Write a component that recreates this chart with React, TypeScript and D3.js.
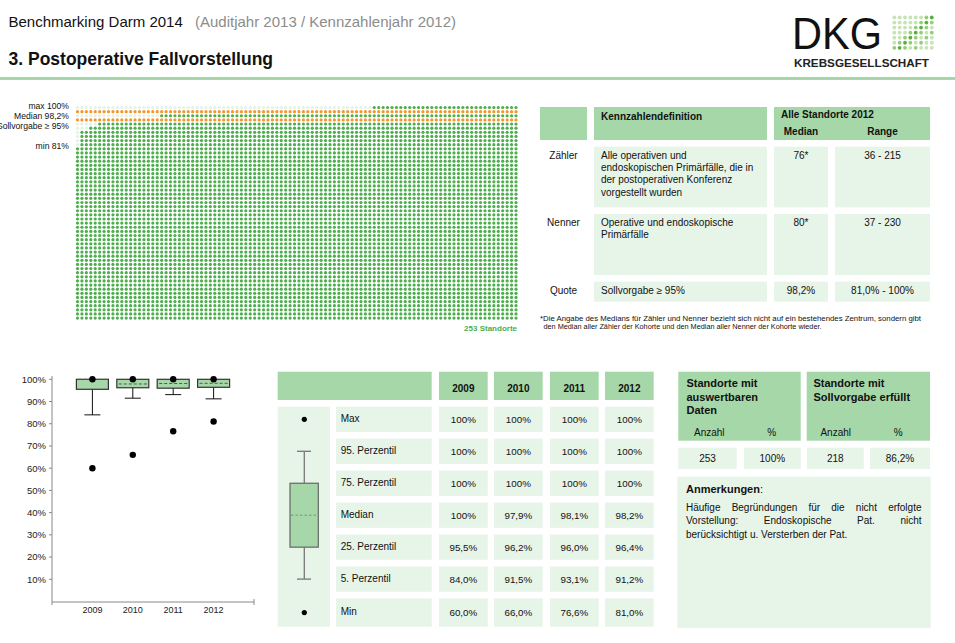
import React from 'react';
import * as d3 from 'd3';

const FONT = '"Liberation Sans", Arial, Helvetica, sans-serif';
const HEAD_GREEN = '#a6d7a8';
const CELL_GREEN = '#e7f4e8';
const DOT_GREEN = '#4cae4c';
const DOT_LIGHT = '#e4f2e4';
const ORANGE = '#f5962e';

// 2012: quota per Standort, as [value %, number of Standorte]
const quoteGroups: [number, number][] = [
    [81.0, 1], [88.5, 2], [89.0, 3], [90.5, 3], [91.2, 4], [92.5, 5], [93.5, 5], [94.5, 12],
    [95.5, 14], [96.4, 15], [97.0, 20], [97.8, 25], [98.2, 20], [98.8, 20], [99.3, 21], [100, 83],
];
const quoteMax = 100;
const quoteMedian = 98.2;
const quoteSoll = 95;
const quoteMin = 81;
const standorteLabel = '253 Standorte';

// Kennzahlen table
const kennNames = ['Zähler', 'Nenner', 'Quote'];
const kennDefs = [
    ['Alle operativen und', 'endoskopischen Primärfälle, die in', 'der postoperativen Konferenz', 'vorgestellt wurden'],
    ['Operative und endoskopische', 'Primärfälle'],
    ['Sollvorgabe ≥ 95%'],
];
const kennMedian = ['76*', '80*', '98,2%'];
const kennRange = ['36 - 215', '37 - 230', '81,0% - 100%'];

// boxplot per year
const years = [2009, 2010, 2011, 2012];
const maxVals = [100, 100, 100, 100];
const p95Vals = [100, 100, 100, 100];
const p75Vals = [100, 100, 100, 100];
const medianVals = [100, 97.9, 98.1, 98.2];
const p25Vals = [95.5, 96.2, 96.0, 96.4];
const p5Vals = [84.0, 91.5, 93.1, 91.2];
const minVals = [60.0, 66.0, 76.6, 81.0];
const statLabels = ['Max', '95. Perzentil', '75. Perzentil', 'Median', '25. Perzentil', '5. Perzentil', 'Min'];

// Standorte summary
const standorteAnzahl = 253;
const standortePct = 100;
const erfuelltAnzahl = 218;
const erfuelltPct = 86.2;

const anmerkungLines = [
    'Häufige Begründungen für die nicht erfolgte',
    'Vorstellung: Endoskopische Pat. nicht',
    'berücksichtigt u. Versterben der Pat.',
];

// logo dots: 0 light, 1 mid, 2 dark
const logoDots = [
    '00000012',
    '00000121',
    '00001210',
    '00012101',
    '00121010',
    '01210100',
    '12101000',
];

const fmtPct = (v: number) => (v === 100 ? '100%' : v.toFixed(1).replace('.', ',') + '%');

let measureCtx: CanvasRenderingContext2D | null = null;
const textWidth = (s: string, font: string) => {
    if (!measureCtx) measureCtx = document.createElement('canvas').getContext('2d');
    if (!measureCtx) return s.length * 5;
    measureCtx.font = font;
    return measureCtx.measureText(s).width;
};

const justifyWords = (line: string, x0: number, x1: number, font: string) => {
    const words = line.split(' ');
    const widths = words.map(w => textWidth(w, font));
    const gap = (x1 - x0 - d3.sum(widths)) / Math.max(1, words.length - 1);
    let x = x0;
    return words.map((w, i) => {
        const pos = x;
        x += widths[i] + gap;
        return { w, x: pos };
    });
};

const T = (props: any) => <text fontFamily={FONT} fill="#111" {...props} />;

const DotChart = () => {
    const values = quoteGroups.flatMap(([v, n]) => Array(n).fill(v) as number[]);
    const xBar = d3.scaleBand<number>().domain(d3.range(values.length)).range([76, 518]);
    const yQuote = d3.scaleLinear().domain([0, 100]).range([318.1, 107.5]);
    const nCols = 100;
    const nRows = 52;
    const colX = d3.scaleLinear().domain([0, nCols - 1]).range([77.5, 516]);
    const rowY = d3.scaleLinear().domain([0, nRows - 1]).range([107.5, 318.1]);
    const medianRow = Math.round(rowY.invert(yQuote(quoteMedian)));
    const sollRow = Math.ceil(rowY.invert(yQuote(quoteSoll)));

    const dots: JSX.Element[] = [];
    for (let r = 0; r < nRows; r++) {
        const y = rowY(r);
        const level = yQuote.invert(y);
        for (let c = 0; c < nCols; c++) {
            const x = colX(c);
            const idx = Math.max(0, Math.min(values.length - 1, Math.floor((x - 76) / xBar.step())));
            let fill = values[idx] >= level - 0.01 ? DOT_GREEN : DOT_LIGHT;
            if (r === medianRow || r === sollRow) fill = ORANGE;
            dots.push(<circle key={r + '-' + c} cx={x} cy={y} r={1.6} fill={fill} />);
        }
    }

    const labels = [
        { text: `max ${quoteMax}%`, y: 106 },
        { text: `Median ${fmtPct(quoteMedian)}`, y: 116 },
        { text: `Sollvorgabe ≥ ${quoteSoll}%`, y: 126 },
        { text: `min ${quoteMin}%`, y: yQuote(quoteMin) - 2 },
    ];

    return (
        <g>
            {dots}
            {labels.map(l => (
                <T key={l.text} x={69} y={l.y} dy="0.35em" fontSize={8.6} textAnchor="end">{l.text}</T>
            ))}
            <T x={517} y={328} dy="0.35em" fontSize={8} fontWeight="bold" textAnchor="end" fill={DOT_GREEN}>
                {standorteLabel}
            </T>
        </g>
    );
};

const KennTable = () => {
    const rowTop = [146.7, 214, 281.7];
    const rowH = [60.6, 61, 20];
    const c1 = [540, 587];
    const c2 = [594, 767];
    const c3 = [774, 828];
    const c4 = [835, 930];
    const mid = (c: number[]) => (c[0] + c[1]) / 2;
    return (
        <g>
            <rect x={c1[0]} y={107} width={c1[1] - c1[0]} height={33} fill={HEAD_GREEN} />
            <rect x={c2[0]} y={107} width={c2[1] - c2[0]} height={33} fill={HEAD_GREEN} />
            <rect x={c3[0]} y={107} width={c4[1] - c3[0]} height={33} fill={HEAD_GREEN} />
            <T x={601} y={116.7} dy="0.35em" fontSize={10} fontWeight="bold">Kennzahlendefinition</T>
            <T x={781} y={114} dy="0.35em" fontSize={10} fontWeight="bold">Alle Standorte 2012</T>
            <T x={mid(c3)} y={131.7} dy="0.35em" fontSize={10} fontWeight="bold" textAnchor="middle">Median</T>
            <T x={mid(c4)} y={131.7} dy="0.35em" fontSize={10} fontWeight="bold" textAnchor="middle">Range</T>
            {kennNames.map((name, i) => (
                <g key={name}>
                    <rect x={c2[0]} y={rowTop[i]} width={c2[1] - c2[0]} height={rowH[i]} fill={CELL_GREEN} />
                    <rect x={c3[0]} y={rowTop[i]} width={c3[1] - c3[0]} height={rowH[i]} fill={CELL_GREEN} />
                    <rect x={c4[0]} y={rowTop[i]} width={c4[1] - c4[0]} height={rowH[i]} fill={CELL_GREEN} />
                    <T x={mid(c1)} y={rowTop[i] + 8.5} dy="0.35em" fontSize={10} textAnchor="middle">{name}</T>
                    {kennDefs[i].map((line, j) => (
                        <T key={j} x={601} y={rowTop[i] + 8.5 + j * 12.3} dy="0.35em" fontSize={10}>{line}</T>
                    ))}
                    <T x={mid(c3)} y={rowTop[i] + 8.5} dy="0.35em" fontSize={10} textAnchor="middle">{kennMedian[i]}</T>
                    <T x={mid(c4)} y={rowTop[i] + 8.5} dy="0.35em" fontSize={10} textAnchor="middle">{kennRange[i]}</T>
                </g>
            ))}
            <T x={540} y={318.5} dy="0.35em" fontSize={7} textLength={381} lengthAdjust="spacingAndGlyphs">
                *Die Angabe des Medians für Zähler und Nenner bezieht sich nicht auf ein bestehendes Zentrum, sondern gibt
            </T>
            <T x={543.5} y={326.5} dy="0.35em" fontSize={7} textLength={278} lengthAdjust="spacingAndGlyphs">
                den Median aller Zähler der Kohorte und den Median aller Nenner der Kohorte wieder.
            </T>
        </g>
    );
};

const BoxPlot = () => {
    const y = d3.scaleLinear().domain([0, 100]).range([601.5, 379.3]);
    const x = d3.scaleLinear().domain([2008, 2013]).range([52, 254]);
    const ticks = d3.range(10, 101, 10);
    const boxW = 32;
    const capW = 16;
    return (
        <g>
            <line x1={52} x2={52} y1={376} y2={602} stroke="#888" />
            <line x1={52} x2={254} y1={602} y2={602} stroke="#888" />
            <line x1={52} x2={52} y1={602} y2={605} stroke="#888" />
            <line x1={254} x2={254} y1={599} y2={605} stroke="#888" />
            {ticks.map(t => (
                <g key={t}>
                    <line x1={49} x2={52} y1={y(t)} y2={y(t)} stroke="#888" />
                    <T x={46} y={y(t)} dy="0.35em" fontSize={9.5} textAnchor="end" fill="#222">{t}%</T>
                </g>
            ))}
            {years.map((yr, i) => {
                const cx = x(yr);
                return (
                    <g key={yr}>
                        <line x1={cx} x2={cx} y1={y(p25Vals[i])} y2={y(p5Vals[i])} stroke="#111" />
                        <line x1={cx - capW / 2} x2={cx + capW / 2} y1={y(p5Vals[i])} y2={y(p5Vals[i])} stroke="#111" />
                        <line x1={cx} x2={cx} y1={y(p95Vals[i])} y2={y(p75Vals[i])} stroke="#111" />
                        <rect x={cx - boxW / 2} y={y(p75Vals[i])} width={boxW} height={y(p25Vals[i]) - y(p75Vals[i])}
                            fill={HEAD_GREEN} stroke="#333" strokeWidth={1.2} />
                        <line x1={cx - boxW / 2 + 2} x2={cx + boxW / 2 - 2} y1={y(medianVals[i])} y2={y(medianVals[i])}
                            stroke="#555" strokeDasharray="3,2" />
                        <circle cx={cx} cy={y(maxVals[i])} r={3.2} fill="#000" />
                        <circle cx={cx} cy={y(minVals[i])} r={3.2} fill="#000" />
                        <T x={cx} y={609.5} dy="0.35em" fontSize={9} textAnchor="middle" fill="#222">{yr}</T>
                    </g>
                );
            })}
        </g>
    );
};

const StatsTable = () => {
    const colX = [439, 494, 550, 605];
    const colW = 48.7;
    const rowTop = d3.range(statLabels.length).map(i => 406.7 + i * 31.95);
    const rowH = statLabels.map((_, i) => (i === statLabels.length - 1 ? 28.3 : 25.3));
    const rowMid = rowTop.map((t, i) => t + rowH[i] / 2);
    const series = [maxVals, p95Vals, p75Vals, medianVals, p25Vals, p5Vals, minVals];
    const lx = 304.3;
    return (
        <g>
            <rect x={277.7} y={371.7} width={154} height={28.3} fill={HEAD_GREEN} />
            {years.map((yr, j) => (
                <g key={yr}>
                    <rect x={colX[j]} y={371.7} width={colW} height={28.3} fill={HEAD_GREEN} />
                    <T x={colX[j] + colW / 2} y={388.3} dy="0.35em" fontSize={10} fontWeight="bold" textAnchor="middle">{yr}</T>
                </g>
            ))}
            <rect x={277.7} y={406.7} width={52.3} height={220} fill={CELL_GREEN} />
            {statLabels.map((lab, i) => (
                <g key={lab}>
                    <rect x={336} y={rowTop[i]} width={95.7} height={rowH[i]} fill={CELL_GREEN} />
                    <T x={340.7} y={rowMid[i] - 1} dy="0.35em" fontSize={10}>{lab}</T>
                    {years.map((yr, j) => (
                        <g key={yr}>
                            <rect x={colX[j]} y={rowTop[i]} width={colW} height={rowH[i]} fill={CELL_GREEN} />
                            <T x={colX[j] + colW / 2} y={rowMid[i]} dy="0.35em" fontSize={9.8} textAnchor="middle">
                                {fmtPct(series[i][j])}
                            </T>
                        </g>
                    ))}
                </g>
            ))}
            {/* legend box */}
            <circle cx={lx} cy={rowMid[0]} r={2.6} fill="#000" />
            <line x1={lx} x2={lx} y1={rowMid[1]} y2={rowMid[2]} stroke="#777" strokeWidth={1.3} />
            <line x1={297} x2={311} y1={rowMid[1]} y2={rowMid[1]} stroke="#777" strokeWidth={1.3} />
            <line x1={lx} x2={lx} y1={rowMid[4]} y2={rowMid[5]} stroke="#777" strokeWidth={1.3} />
            <line x1={297} x2={311} y1={rowMid[5]} y2={rowMid[5]} stroke="#777" strokeWidth={1.3} />
            <rect x={290} y={rowMid[2]} width={28.3} height={rowMid[4] - rowMid[2]} fill={HEAD_GREEN} stroke="#666" strokeWidth={1.2} />
            <line x1={291} x2={317} y1={rowMid[3]} y2={rowMid[3]} stroke="#888" strokeDasharray="2.5,2" />
            <circle cx={lx} cy={rowMid[6]} r={2.6} fill="#000" />
        </g>
    );
};

const SummaryPanel = () => {
    const bodyFont = `10px ${FONT}`;
    return (
        <g>
            <rect x={678.3} y={371.7} width={122.4} height={69} fill={HEAD_GREEN} />
            <rect x={806.7} y={371.7} width={123.3} height={69} fill={HEAD_GREEN} />
            {['Standorte mit', 'auswertbaren', 'Daten'].map((l, i) => (
                <T key={l} x={686.5} y={383.3 + i * 13.4} dy="0.35em" fontSize={11} fontWeight="bold">{l}</T>
            ))}
            {['Standorte mit', 'Sollvorgabe erfüllt'].map((l, i) => (
                <T key={l} x={813.5} y={383.3 + i * 13.4} dy="0.35em" fontSize={11} fontWeight="bold">{l}</T>
            ))}
            <T x={709.3} y={432.7} dy="0.35em" fontSize={10} textAnchor="middle">Anzahl</T>
            <T x={771.7} y={432.7} dy="0.35em" fontSize={10} textAnchor="middle">%</T>
            <T x={835.7} y={432.7} dy="0.35em" fontSize={10} textAnchor="middle">Anzahl</T>
            <T x={898.3} y={432.7} dy="0.35em" fontSize={10} textAnchor="middle">%</T>
            {[
                { x0: 678.3, x1: 736.7, v: String(standorteAnzahl) },
                { x0: 744, x1: 800.7, v: fmtPct(standortePct) },
                { x0: 807, x1: 863.7, v: String(erfuelltAnzahl) },
                { x0: 870, x1: 930, v: fmtPct(erfuelltPct) },
            ].map(c => (
                <g key={c.x0}>
                    <rect x={c.x0} y={447.7} width={c.x1 - c.x0} height={21.3} fill={CELL_GREEN} />
                    <T x={(c.x0 + c.x1) / 2} y={458.3} dy="0.35em" fontSize={10} textAnchor="middle">{c.v}</T>
                </g>
            ))}
            <rect x={677.3} y={476.7} width={253.4} height={151.3} fill={CELL_GREEN} />
            <T x={686} y={489.3} dy="0.35em" fontSize={11} fontWeight="bold">
                Anmerkungen<tspan fontWeight="normal">:</tspan>
            </T>
            {anmerkungLines.map((line, i) => {
                const y = 507.3 + i * 13.4;
                if (i === anmerkungLines.length - 1) {
                    return <T key={i} x={686} y={y} dy="0.35em" fontSize={10}>{line}</T>;
                }
                return justifyWords(line, 686, 921.5, bodyFont).map((w, k) => (
                    <T key={i + '-' + k} x={w.x} y={y} dy="0.35em" fontSize={10}>{w.w}</T>
                ));
            })}
        </g>
    );
};

const Header = () => {
    const shade = ['#c6e3b4', '#93cd78', '#55b03c'];
    return (
        <g>
            <T x={8.5} y={27} fontSize={15}>Benchmarking Darm 2014</T>
            <T x={195} y={27} fontSize={15} fill="#8c8c8c">(Auditjahr 2013 / Kennzahlenjahr 2012)</T>
            <T x={8.5} y={64.5} fontSize={17.5} fontWeight="bold">3. Postoperative Fallvorstellung</T>
            <rect x={0} y={77} width={955} height={3} fill={HEAD_GREEN} />
            <T x={792} y={48.5} fontSize={44} textLength={90} lengthAdjust="spacingAndGlyphs">DKG</T>
            {logoDots.map((row, r) => row.split('').map((v, c) => (
                <circle key={r + '-' + c} cx={894.3 + c * 5.35} cy={17.5 + r * 5.05} r={1.9} fill={shade[+v]} />
            )))}
            <T x={794} y={67} fontSize={10} fontWeight="bold" textLength={135} lengthAdjust="spacingAndGlyphs" fill="#222">
                KREBSGESELLSCHAFT
            </T>
        </g>
    );
};

export default function App() {
    return (
        <svg width={955} height={643} style={{ position: 'absolute', left: 0, top: 0, background: '#fff' }}>
            <Header />
            <DotChart />
            <KennTable />
            <BoxPlot />
            <StatsTable />
            <SummaryPanel />
        </svg>
    );
}
